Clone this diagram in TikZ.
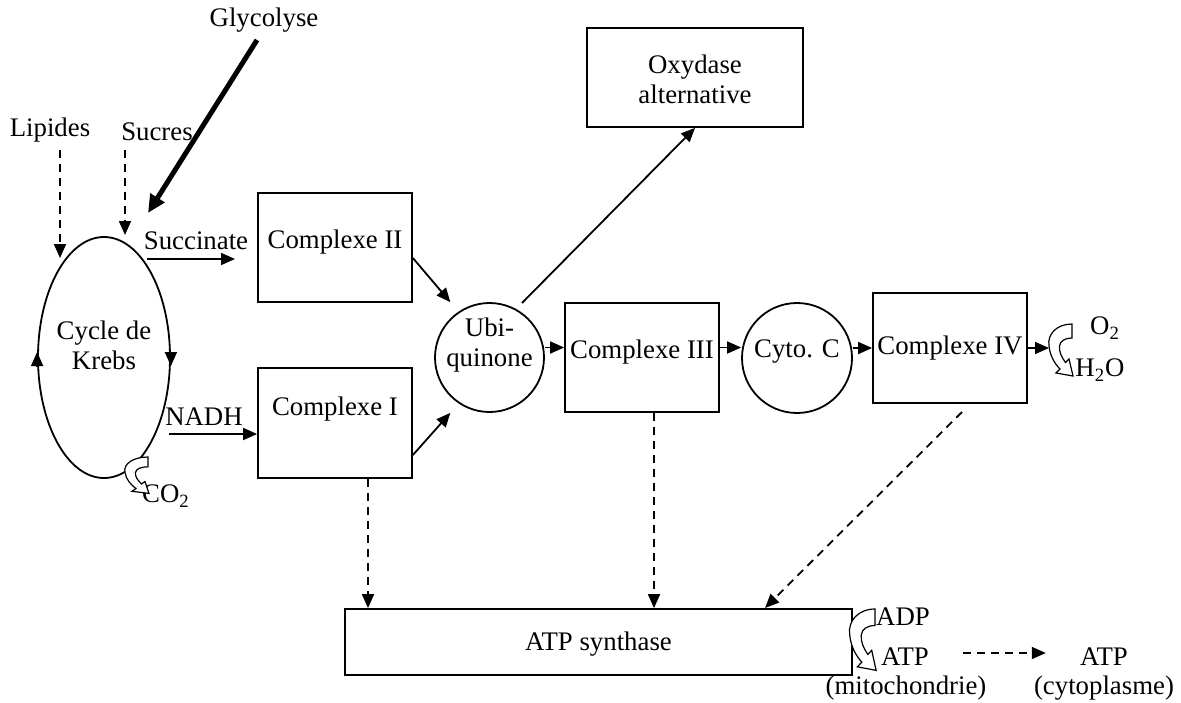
\documentclass[tikz,border=0pt]{standalone}
\usepackage{fontspec}
\setmainfont{Liberation Serif}
\usetikzlibrary{arrows.meta,shapes.geometric}
\tikzset{
	box/.style={draw, line width=0.9pt, minimum width=77pt, minimum height=54.5pt, inner sep=0pt},
	ring/.style={draw, circle, line width=0.9pt, minimum size=54.5pt, inner sep=0pt},
	word/.style={align=center, inner sep=1pt},
	inside/.style 2 args={label={[word, yshift=#1]center:#2}},
	tip/.style={line width=0.9pt, -{Triangle[length=7pt,width=6pt]}},
	dashtip/.style={tip, dash pattern=on 4pt off 3pt},
	bigtip/.style={line width=2.5pt, -{Triangle[length=9pt,width=8pt]}},
	bend/.pic={
		\draw[line width=0.6pt, fill=white] (0,0) .. controls (-15,0) and (-25,10) .. (-23,22)
			.. controls (-22,32) and (-17,40) .. (-12,45) -- (-16,49) -- (1,52)
			-- (-3,35) -- (-6.5,38.5) .. controls (-10.5,33) and (-13,28) .. (-12.5,22)
			.. controls (-12,17) and (-7,14) .. (0,14) -- cycle;
	}
}

\begin{document}
\begin{tikzpicture}[x=0.5pt,y=-0.5pt,font=\fontsize{13.4}{15}\selectfont]
	\useasboundingbox (0,0) rectangle (1181,702);

	% the chain
	\node[draw, ellipse, line width=0.9pt, minimum width=66pt, minimum height=120.5pt, inner sep=0pt, inside={6pt}{Cycle de\\Krebs}] (krebs) at (104,357.5) {};
	\node[box, inside={2.75pt}{Complexe II}] (c2) at (335,247.5) {};
	\node[box, minimum height=55pt, inside={7pt}{Complexe I}] (c1) at (335,423) {};
	\node[ring, inside={6pt}{Ubi-\\quinone}] (ubi) at (489.5,357.5) {};
	\node[box, inside={2.75pt}{Complexe III}] (c3) at (642,357.5) {};
	\node[ring, minimum size=55pt, inside={3pt}{Cyto. C}] (cyto) at (797,358) {};
	\node[box, minimum height=55pt, inside={0pt}{Complexe IV}] (c4) at (950,348) {};
	\node[box, minimum width=108pt, minimum height=49.5pt, inside={-1pt}{Oxydase\\alternative}] (oxy) at (695,77.5) {};
	\node[box, minimum width=253.5pt, minimum height=33pt, inside={-1pt}{ATP synthase}] (atps) at (598.5,642) {};

	% texts
	\node[word] (glyco) at (264,20) {Glycolyse};
	\node[word] (lip) at (50,130) {Lipides};
	\node[word] (suc) at (157,132) {Sucres};
	\node[word] (succ) at (196,241) {Succinate};
	\node[word] (nadh) at (204,417) {NADH};
	\node[word] (co2) at (166,496) {CO\textsubscript{2}};
	\node[word] (o2) at (1105,328) {O\textsubscript{2}};
	\node[word] (h2o) at (1100,370) {H\textsubscript{2}O};
	\node[word] (adp) at (903,617) {ADP};
	\node[word] (atpm) at (905,657) {ATP};
	\node[word] (mito) at (906,688) {(mitochondrie)};
	\node[word] (atpc) at (1104,657) {ATP};
	\node[word] (cytopl) at (1104,688) {(cytoplasme)};

	% free ends
	\coordinate (glyS) at (257,40); \coordinate (glyE) at (148,213);
	\coordinate (lipS) at (60,150); \coordinate (lipE) at (60,258);
	\coordinate (sucS) at (125,150); \coordinate (sucE) at (125,235);
	\coordinate (succS) at (147,259); \coordinate (succE) at (235,259);
	\coordinate (nadhS) at (169,434);
	\coordinate (oxyS) at (522,303);
	\coordinate (o2E) at (1049,348);
	\coordinate (c4S) at (962,412); \coordinate (c4E) at (765,608);

	\draw[bigtip] (glyS) -- (glyE);
	\draw[dashtip] (lipS) -- (lipE);
	\draw[dashtip] (sucS) -- (sucE);
	\draw[tip] ([yshift=-4.5pt]krebs.west) -- ([yshift=2.75pt]krebs.west);
	\draw[tip] ([yshift=3pt]krebs.east) -- ([yshift=-4.25pt]krebs.east);
	\draw[tip] (succS) -- (succE);
	\draw[tip] (nadhS) -- (nadhS -| c1.west);
	\draw[tip] ([yshift=-5.25pt]c2.east) -- (ubi.north west |- ubi.north);
	\draw[tip] ([yshift=-16pt]c1.east) -- (ubi.south west |- ubi.south);
	\draw[tip] (oxyS) -- (oxy.south);
	\draw[tip] ([yshift=5pt]ubi.east) -- ([yshift=5pt]ubi.east -| c3.west);
	\draw[tip] ([yshift=5pt]c3.east) -- ([yshift=5pt]c3.east -| cyto.west);
	\draw[tip] ([yshift=5pt]cyto.east) -- ([yshift=5pt]cyto.east -| c4.west);
	\draw[tip] (c4.east) -- (o2E);
	\draw[dashtip] ([xshift=16.5pt]c1.south) -- ([xshift=16.5pt]c1.south |- atps.north);
	\draw[dashtip] ([xshift=6pt]c3.south) -- ([xshift=6pt]c3.south |- atps.north);
	\draw[dashtip] (c4S) -- (c4E);
	\draw[dashtip, shorten <=16pt, shorten >=16pt] ([yshift=2pt]atpm.east) -- ([yshift=2pt]atpc.west);

	% hollow bent arrows
	\pic[yscale=0.7] at (148,457) {bend};
	\pic at (1072,324) {bend};
	\pic[xscale=1.1, yscale=1.18] at (875,609) {bend};
\end{tikzpicture}
\end{document}
